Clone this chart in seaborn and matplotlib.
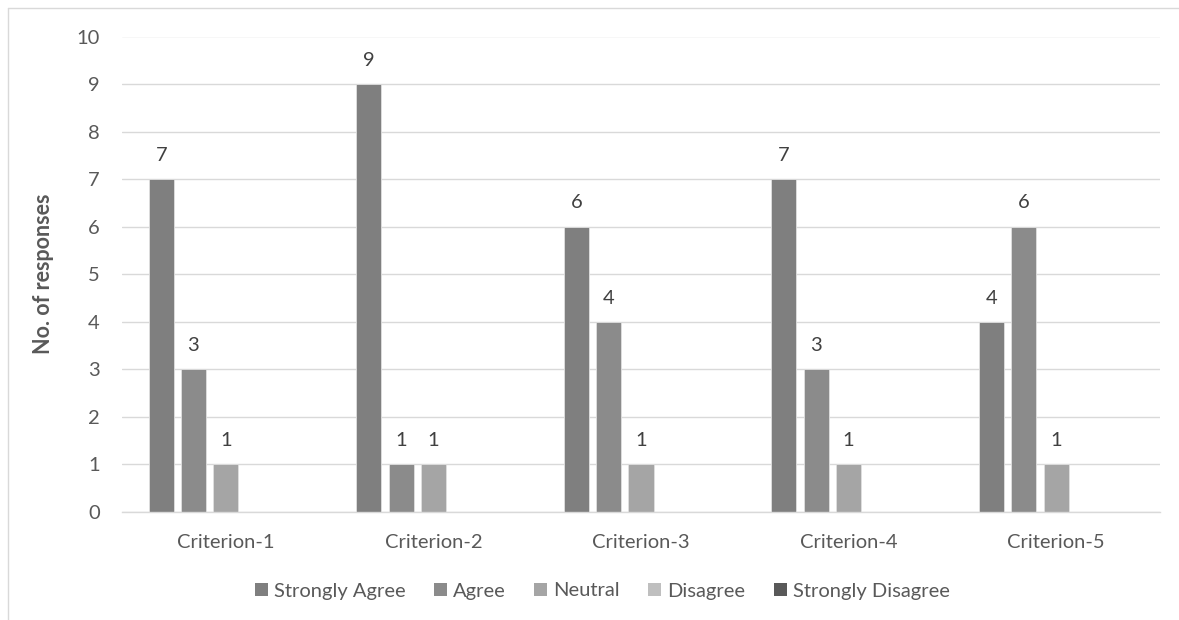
import matplotlib
matplotlib.use("Agg")
import matplotlib.pyplot as plt
from matplotlib.lines import Line2D
from matplotlib.patches import Patch
import seaborn as sns
import pandas as pd

categories = ["Criterion-1", "Criterion-2", "Criterion-3", "Criterion-4", "Criterion-5"]
series_names = ["Strongly Agree", "Agree", "Neutral", "Disagree", "Strongly Disagree"]
strongly_agree = [7, 9, 6, 7, 4]
agree = [3, 1, 4, 3, 6]
neutral = [1, 1, 1, 1, 1]
disagree = [0, 0, 0, 0, 0]
strongly_disagree = [0, 0, 0, 0, 0]
colors = ["#7f7f7f", "#8b8b8b", "#a5a5a5", "#bfbfbf", "#595959"]

values = [strongly_agree, agree, neutral, disagree, strongly_disagree]
rows = []
for name, vals in zip(series_names, values):
    for c, v in zip(categories, vals):
        rows.append({"Criterion": c, "Response": name, "Count": v})
df = pd.DataFrame(rows)

sns.set_theme(style="white")
plt.rcParams["font.family"] = ["Lato", "DejaVu Sans"]
text_color = "#595959"
FS = 14.5

fig = plt.figure(figsize=(11.79, 6.2), dpi=100)
ax = fig.add_axes([122/1179, 108/620, 1038/1179, 475.5/620])

sns.barplot(data=df, x="Criterion", y="Count", hue="Response",
            hue_order=series_names, order=categories, palette=colors,
            width=0.778, gap=0.226, ax=ax, legend=False,
            edgecolor="#e0e0e0", linewidth=0.6)

ax.set_xlim(-0.5, len(categories) - 0.5)
ax.set_ylim(0, 10)
ax.set_yticks(range(0, 11))
ax.yaxis.grid(True, color="#d9d9d9", linewidth=1)
ax.set_axisbelow(True)
for s in ["top", "right", "left"]:
    ax.spines[s].set_visible(False)
ax.spines["bottom"].set_color("#d9d9d9")
ax.spines["bottom"].set_linewidth(1)
ax.tick_params(axis="both", length=0, labelsize=FS, colors=text_color)
ax.tick_params(axis="y", pad=16)
ax.tick_params(axis="x", pad=16)
ax.set_xlabel("")
ax.set_ylabel("No. of responses", fontsize=FS + 1, fontweight="bold",
              color=text_color, labelpad=16)

for cont in ax.containers:
    labels = [f"{int(b.get_height())}" if b.get_height() > 0 else "" for b in cont]
    ax.bar_label(cont, labels=labels, padding=11, fontsize=FS, color="#404040")

handles = [Patch(facecolor=c, edgecolor="none") for c in colors]
fig.legend(handles, series_names, loc="center", bbox_to_anchor=(0.511, 1 - 591/620),
           ncol=5, frameon=False, fontsize=FS, labelcolor=text_color,
           handlelength=0.65, handleheight=0.65, handletextpad=0.3,
           columnspacing=1.4)

fig.add_artist(Line2D([8/1179, 8/1179], [0, 1 - 8/620], transform=fig.transFigure,
                      color="#d9d9d9", linewidth=1))
fig.add_artist(Line2D([8/1179, 1], [1 - 8/620, 1 - 8/620], transform=fig.transFigure,
                      color="#d9d9d9", linewidth=1))

fig.savefig("out.png", dpi=100)
